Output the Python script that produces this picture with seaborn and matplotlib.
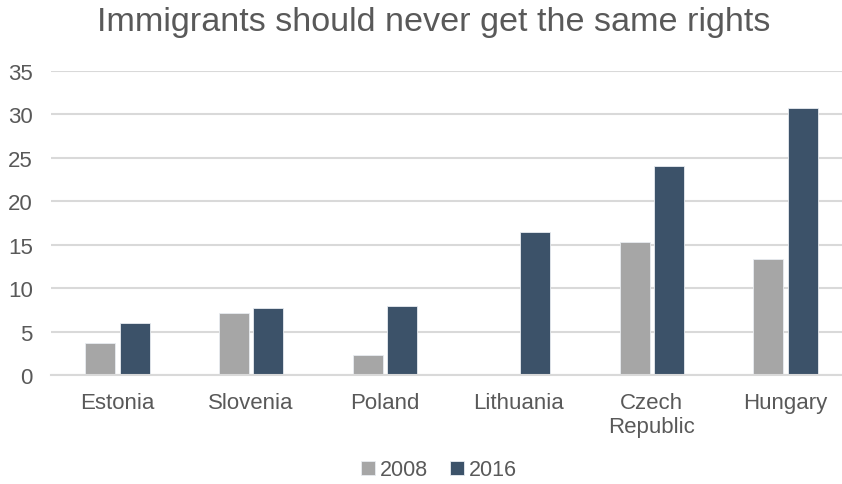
import numpy as np
import pandas as pd
import matplotlib
matplotlib.use("Agg")
import matplotlib.pyplot as plt
import seaborn as sns

countries = ["Estonia", "Slovenia", "Poland", "Lithuania", "Czech\nRepublic", "Hungary"]
years = ["2008", "2016"]
values_2008 = [3.7, 7.1, 2.3, np.nan, 15.3, 13.3]
values_2016 = [6.0, 7.7, 7.9, 16.5, 24.1, 30.7]
y_ticks = [0, 5, 10, 15, 20, 25, 30, 35]
title = "Immigrants should never get the same rights"
colors = ["#A6A6A6", "#3C5269"]

df = pd.DataFrame({
    "country": countries * 2,
    "year": [years[0]] * len(countries) + [years[1]] * len(countries),
    "value": values_2008 + values_2016,
})

sns.set_theme(style="white")
plt.rcParams["font.family"] = ["Liberation Sans", "DejaVu Sans"]
text_color = "#595959"

W, H = 842, 485
fig = plt.figure(figsize=(W / 100, H / 100), dpi=100)
left_px, right_px, bottom_px, top_px = 50.7, 842, 376, 72
ax = fig.add_axes([left_px / W, 1 - bottom_px / H, (right_px - left_px) / W, (bottom_px - top_px) / H])

sns.barplot(data=df, x="country", y="value", hue="year", order=countries,
            hue_order=years, palette=colors, saturation=1, width=0.514, gap=0.127,
            edgecolor="#E8ECF0", linewidth=0.6, ax=ax, legend=True)

ax.set_xlim(-0.5, 5 + (842 - 785.5) / 133.6)
ax.set_ylim(0, 35)
ax.set_yticks(y_ticks)
ax.yaxis.grid(True, color="#D9D9D9", linewidth=1.5)
ax.set_axisbelow(True)
for s in ["left", "right", "top"]:
    ax.spines[s].set_visible(False)
ax.spines["bottom"].set_color("#D9D9D9")
ax.spines["bottom"].set_linewidth(1.5)
ax.tick_params(axis="both", length=0, labelsize=16, colors=text_color)
ax.tick_params(axis="y", pad=13)
ax.tick_params(axis="x", pad=12)
for lbl in ax.get_xticklabels():
    lbl.set_linespacing(1.2)
ax.set_xlabel("")
ax.set_ylabel("")

leg = ax.legend(loc="center", bbox_to_anchor=(439 / W, 1 - 471 / H),
                bbox_transform=fig.transFigure, ncol=2, frameon=False,
                fontsize=15.5, handlelength=0.65, handleheight=0.65,
                handletextpad=0.25, columnspacing=1.0)
for t in leg.get_texts():
    t.set_color(text_color)

fig.text(434 / W, 1 - 23 / H, title, ha="center", va="center",
         fontsize=24.6, color=text_color)

fig.savefig("out.png", dpi=100)
